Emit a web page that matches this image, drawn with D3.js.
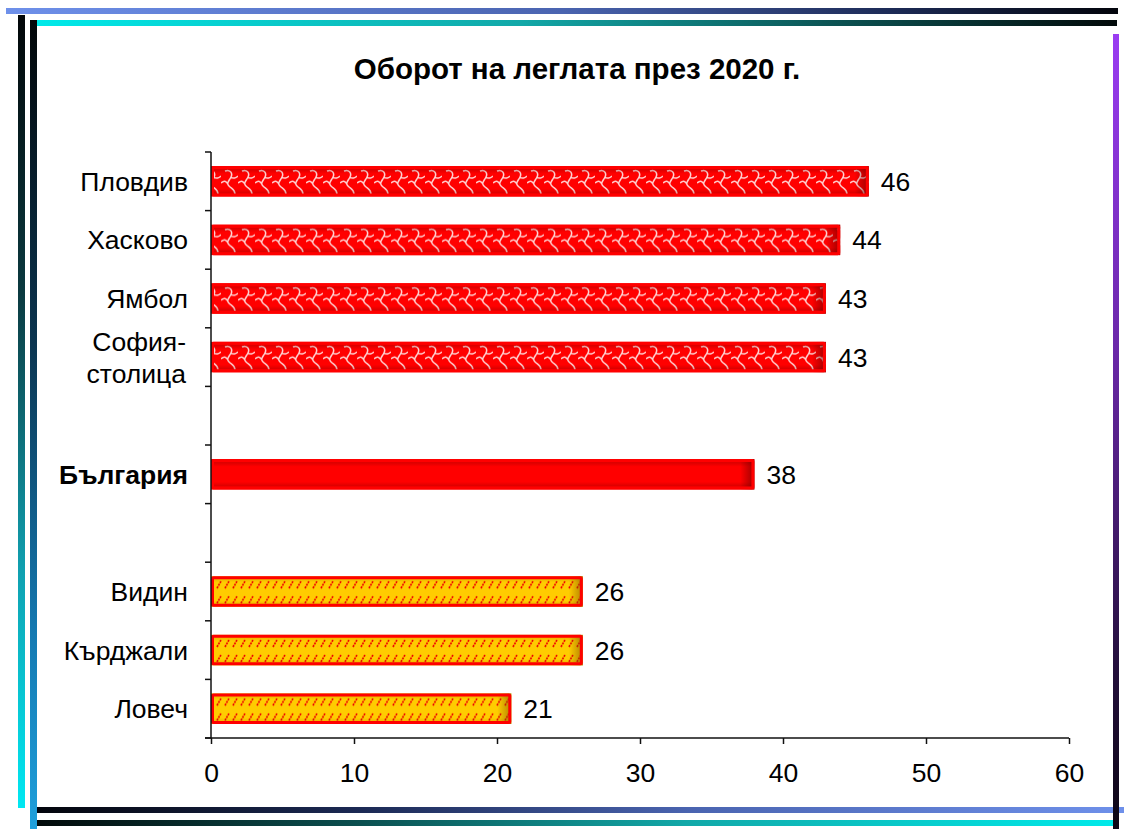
<!DOCTYPE html>
<html>
<head>
<meta charset="utf-8">
<script src="https://cdn.jsdelivr.net/npm/d3@7/dist/d3.min.js"></script>
<style>
  html, body { margin: 0; padding: 0; background: #fff; }
  svg { display: block; font-family: "Liberation Sans", Arial, sans-serif; }
</style>
</head>
<body>
<svg id="chart" width="1124" height="829"></svg>
<script>
// Bed turnover by district, 2020 (blank rows separate the groups)
const categories = ["Пловдив", "Хасково", "Ямбол", "София-столица", "", "България", "", "Видин", "Кърджали", "Ловеч"];
const values     = [46, 44, 43, 43, null, 38, null, 26, 26, 21];
const groups     = ["high", "high", "high", "high", null, "national", null, "low", "low", "low"];
const xTicks     = [0, 10, 20, 30, 40, 50, 60];
const title      = "Оборот на леглата през 2020 г.";

const svg = d3.select("#chart");
const defs = svg.append("defs");

// ---------- frame lines ----------
function lineGrad(id, stops, vertical) {
  const g = defs.append("linearGradient").attr("id", id)
    .attr("x1", 0).attr("y1", 0)
    .attr("x2", vertical ? 0 : 1).attr("y2", vertical ? 1 : 0);
  stops.forEach(([o, c]) => g.append("stop").attr("offset", o).attr("stop-color", c));
}
lineGrad("gTop1", [[0, "#6e90ea"], [0.5, "#4a64b0"], [0.8, "#1c2a55"], [1, "#03050c"]], false);
lineGrad("gTop2", [[0, "#00eaea"], [0.45, "#12a8a8"], [0.75, "#0b5050"], [1, "#020a0a"]], false);
lineGrad("gBot1", [[0, "#03050c"], [0.3, "#1c2a55"], [0.6, "#4a64b0"], [1, "#6e90ea"]], false);
lineGrad("gBot2", [[0, "#020a0a"], [0.3, "#0b5050"], [0.6, "#12a8a8"], [1, "#00eaea"]], false);
lineGrad("gLeft1", [[0, "#020608"], [0.35, "#0b3a40"], [0.7, "#10a0b0"], [1, "#00e8f2"]], true);
lineGrad("gLeft2", [[0, "#020608"], [0.4, "#0b3550"], [0.75, "#1478b0"], [1, "#1fa0dc"]], true);
lineGrad("gRight", [[0, "#9a3cf2"], [0.4, "#6a28a8"], [0.8, "#24103c"], [1, "#0c0614"]], true);

const frame = svg.append("g").attr("class", "frame");
frame.append("rect").attr("x", 6).attr("y", 8).attr("width", 1112).attr("height", 6).attr("fill", "url(#gTop1)");
frame.append("rect").attr("x", 33).attr("y", 20).attr("width", 1084).attr("height", 6).attr("fill", "url(#gTop2)");
frame.append("rect").attr("x", 18).attr("y", 15).attr("width", 7).attr("height", 793).attr("fill", "url(#gLeft1)");
frame.append("rect").attr("x", 30).attr("y", 20).attr("width", 7).attr("height", 809).attr("fill", "url(#gLeft2)");
frame.append("rect").attr("x", 37).attr("y", 807).attr("width", 1087).attr("height", 6).attr("fill", "url(#gBot1)");
frame.append("rect").attr("x", 37).attr("y", 820).attr("width", 1080).attr("height", 6).attr("fill", "url(#gBot2)");
frame.append("rect").attr("x", 1113).attr("y", 34).attr("width", 6).attr("height", 795).attr("fill", "url(#gRight)");

// ---------- scales ----------
const x = d3.scaleLinear().domain([0, 60]).range([211, 1069]);
const y = d3.scaleBand().domain(d3.range(categories.length)).range([152, 738])
  .paddingInner(0.48).paddingOuter(0.24);

// ---------- patterns and shading ----------
// light wave pattern on the red bars (one per bar, aligned to its top)
function wavePattern(id, y0) {
  const p = defs.append("pattern").attr("id", id)
    .attr("patternUnits", "userSpaceOnUse").attr("x", 0).attr("y", y0)
    .attr("width", 17).attr("height", 31);
  p.append("rect").attr("width", 17).attr("height", 31).attr("fill", "#ff0000");
  p.append("path")
    .attr("d", "M4,5 C9,3 12,7 10,11 C8,15 5,17 8,20 C11,23 14,23 14,28" +
               " M0,17 C3,14 5,15 7,18 M10,11 C12,13 15,12 17,10")
    .attr("fill", "none").attr("stroke", "#ffd2d2").attr("stroke-width", 1.5);
}

// red dashes on the gold bars (one pattern per bar so the rows line up)
function dashPattern(id, y0) {
  const p = defs.append("pattern").attr("id", id)
    .attr("patternUnits", "userSpaceOnUse").attr("x", 0).attr("y", y0)
    .attr("width", 8).attr("height", 15);
  p.append("rect").attr("width", 8).attr("height", 15).attr("fill", "#ffcc00");
  p.append("path").attr("d", "M1,11 L5,4").attr("stroke", "#ee0000").attr("stroke-width", 1.7)
    .attr("stroke-dasharray", "2,1");
}

// vertical shading: dark bands near the top and bottom edges
const vs = defs.append("linearGradient").attr("id", "vShade").attr("x1", 0).attr("y1", 0).attr("x2", 0).attr("y2", 1);
[[0, 0.0], [0.12, 0.22], [0.25, 0.0], [0.75, 0.0], [0.88, 0.22], [1, 0.0]]
  .forEach(([o, a]) => vs.append("stop").attr("offset", o).attr("stop-color", "#600000").attr("stop-opacity", a));
// darker right end
const hs = defs.append("linearGradient").attr("id", "hShade").attr("x1", 0).attr("y1", 0).attr("x2", 1).attr("y2", 0);
[[0, 0], [1, 0.55]].forEach(([o, a]) => hs.append("stop").attr("offset", o).attr("stop-color", "#500000").attr("stop-opacity", a));
const vsGold = defs.append("linearGradient").attr("id", "vShadeGold").attr("x1", 0).attr("y1", 0).attr("x2", 0).attr("y2", 1);
[[0, 0.35], [0.2, 0.0], [0.8, 0.0], [1, 0.35]]
  .forEach(([o, a]) => vsGold.append("stop").attr("offset", o).attr("stop-color", "#a06000").attr("stop-opacity", a));
const hsGold = defs.append("linearGradient").attr("id", "hShadeGold").attr("x1", 0).attr("y1", 0).attr("x2", 1).attr("y2", 0);
[[0, 0], [1, 0.6]].forEach(([o, a]) => hsGold.append("stop").attr("offset", o).attr("stop-color", "#805000").attr("stop-opacity", a));

// ---------- title ----------
svg.append("text").attr("x", 577).attr("y", 79).attr("text-anchor", "middle")
  .attr("font-size", 29.5).attr("font-weight", "bold").attr("fill", "#000").text(title);

// ---------- bars ----------
const rows = categories.map((c, i) => ({ i, c, v: values[i], g: groups[i] })).filter(d => d.v != null);
const barG = svg.append("g");
rows.forEach(d => {
  const bx = x(0), by = y(d.i), bw = x(d.v) - x(0), bh = y.bandwidth();
  let fill;
  if (d.g === "high") { wavePattern("wave" + d.i, by); fill = "url(#wave" + d.i + ")"; }
  else if (d.g === "national") fill = "#ff0000";
  else { dashPattern("dash" + d.i, by + 1); fill = "url(#dash" + d.i + ")"; }
  const g = barG.append("g");
  g.append("rect").attr("x", bx).attr("y", by).attr("width", bw).attr("height", bh).attr("fill", fill);
  const gold = d.g === "low";
  g.append("rect").attr("x", bx).attr("y", by).attr("width", bw).attr("height", bh)
    .attr("fill", gold ? "url(#vShadeGold)" : "url(#vShade)");
  const edge = Math.min(14, bw);
  g.append("rect").attr("x", bx + bw - edge).attr("y", by).attr("width", edge).attr("height", bh)
    .attr("fill", gold ? "url(#hShadeGold)" : "url(#hShade)");
  g.append("rect").attr("x", bx + 1.5).attr("y", by + 1.5).attr("width", bw - 3).attr("height", bh - 3)
    .attr("fill", "none").attr("stroke", "#ff0000").attr("stroke-width", 3).attr("rx", 1);
  // value label
  svg.append("text").attr("x", x(d.v) + 12).attr("y", by + bh / 2).attr("dy", "0.36em")
    .attr("font-size", 26.5).attr("fill", "#000").text(d.v);
});

// ---------- axes ----------
const axisColor = "#111";
const ax = svg.append("g");
// vertical category axis
ax.append("line").attr("x1", x(0)).attr("x2", x(0)).attr("y1", 152).attr("y2", 738)
  .attr("stroke", axisColor).attr("stroke-width", 1.5);
const step = y.step();
d3.range(categories.length + 1).forEach(k => {
  const ty = 152 + k * step;
  ax.append("line").attr("x1", x(0) - 6).attr("x2", x(0)).attr("y1", ty).attr("y2", ty)
    .attr("stroke", axisColor).attr("stroke-width", 1.5);
});
// horizontal value axis
const xAxis = d3.axisBottom(x).tickValues(xTicks).tickSize(6).tickSizeOuter(0).tickPadding(19);
const xg = svg.append("g").attr("transform", "translate(0,738)").call(xAxis);
xg.select(".domain").attr("stroke", axisColor).attr("stroke-width", 1.5).attr("d", "M" + (x(0) - 6) + ",0H" + x(60));
xg.selectAll(".tick line").attr("stroke", axisColor).attr("stroke-width", 1.5);
xg.selectAll(".tick text").attr("font-size", 26.5).attr("fill", "#000")
  .attr("font-family", "'Liberation Sans', Arial, sans-serif");

// category labels
categories.forEach((c, i) => {
  if (!c) return;
  const cy = y(i) + y.bandwidth() / 2;
  const t = svg.append("text").attr("x", 188).attr("text-anchor", "end").attr("font-size", 26.5)
    .attr("fill", "#000").attr("font-weight", groups[i] === "national" ? "bold" : "normal");
  if (c.includes("-")) {
    const parts = [c.slice(0, c.indexOf("-") + 1), c.slice(c.indexOf("-") + 1)];
    t.attr("y", cy);
    t.append("tspan").attr("x", 186).attr("dy", "-0.24em").text(parts[0]);
    t.append("tspan").attr("x", 186).attr("dy", "1.2em").text(parts[1]);
  } else {
    t.attr("y", cy).attr("dy", "0.36em").text(c);
  }
});
</script>
</body>
</html>
